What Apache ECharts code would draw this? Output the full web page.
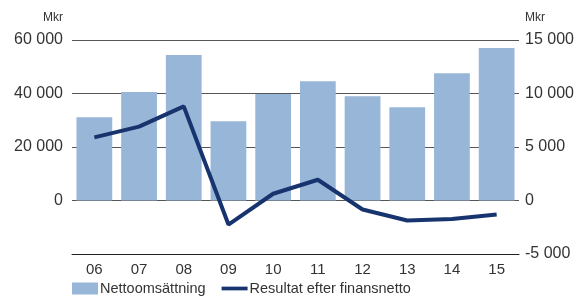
<!DOCTYPE html>
<html>
<head>
<meta charset="utf-8">
<script src="https://cdn.jsdelivr.net/npm/echarts@6/dist/echarts.min.js"></script>
<style>
  html, body { margin: 0; padding: 0; background: #fff; }
  #chart { width: 579px; height: 296px; }
</style>
</head>
<body>
<div id="chart"></div>
<script>
// år (kategorier)
const years = ['06', '07', '08', '09', '10', '11', '12', '13', '14', '15']
// Nettoomsättning, Mkr (vänster axel)
const netSales = [31100, 40600, 54400, 29600, 39800, 44600, 39000, 34900, 47600, 57000]
// Resultat efter finansnetto, Mkr (höger axel)
const profit = [5900, 6900, 8800, -2250, 630, 1940, -840, -1870, -1720, -1310]

const fmt = (v) => {
  const s = String(Math.abs(v)).replace(/\B(?=(\d{3})+(?!\d))/g, ' ')
  return (v < 0 ? '-' : '') + s
}

const chart = echarts.init(document.getElementById('chart'))

const option = {
  animation: false,
  textStyle: { fontFamily: 'Liberation Sans, Arial, sans-serif' },
  grid: { left: 72, right: 60, top: 40, bottom: 42 },
  legend: {
    left: 72,
    top: 281,
    padding: 0,
    itemGap: 16,
    itemWidth: 26,
    itemHeight: 12,
    textStyle: { fontSize: 14.5, color: '#333', padding: [0, 0, 0, -3] },
    data: [
      { name: 'Nettoomsättning', icon: 'rect' },
      {
        name: 'Resultat efter finansnetto',
        icon: 'path://M0,0 L28,0 L28,4 L0,4 Z',
        itemHeight: 4,
        itemStyle: { color: '#17346f' }
      }
    ]
  },
  xAxis: {
    type: 'category',
    data: years,
    axisLine: { onZero: false, lineStyle: { color: '#222', width: 1 } },
    axisTick: { show: false },
    axisLabel: { fontSize: 15, color: '#333', margin: 8 }
  },
  yAxis: [
    {
      type: 'value',
      min: -20000,
      max: 60000,
      interval: 20000,
      name: 'Mkr',
      nameLocation: 'end',
      nameGap: 16,
      nameTextStyle: { fontSize: 12, color: '#333', align: 'right', padding: [0, 9, 0, 0] },
      axisLine: { show: false },
      axisTick: { show: false },
      axisLabel: {
        fontSize: 16,
        color: '#333',
        margin: 9,
        formatter: (v) => (v < 0 ? '' : fmt(v))
      },
      splitLine: { lineStyle: { color: '#555', width: 1 } }
    },
    {
      type: 'value',
      min: -5000,
      max: 15000,
      interval: 5000,
      name: 'Mkr',
      nameLocation: 'end',
      nameGap: 16,
      nameTextStyle: { fontSize: 12, color: '#333', align: 'left', padding: [0, 0, 0, 6] },
      axisLine: { show: false },
      axisTick: { show: false },
      axisLabel: { fontSize: 16, color: '#333', margin: 6, formatter: fmt },
      splitLine: { show: false }
    }
  ],
  series: [
    {
      name: 'Nettoomsättning',
      type: 'bar',
      data: netSales,
      barCategoryGap: '20%',
      itemStyle: { color: '#98b6d8' }
    },
    {
      name: 'Resultat efter finansnetto',
      type: 'line',
      yAxisIndex: 1,
      data: profit,
      symbol: 'none',
      lineStyle: { color: '#17346f', width: 4 },
      itemStyle: { color: '#17346f' }
    }
  ]
}

chart.setOption(option)
</script>
</body>
</html>
